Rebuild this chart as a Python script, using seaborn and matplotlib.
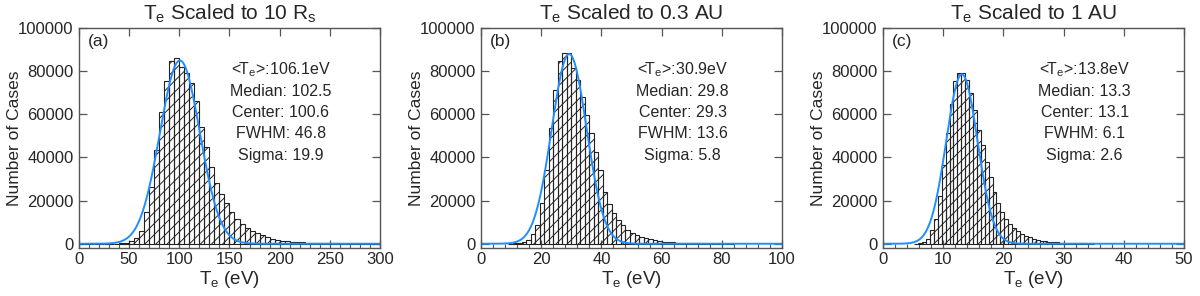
import numpy as np
import pandas as pd
import seaborn as sns
import matplotlib
matplotlib.use('Agg')
from matplotlib import pyplot as plt
from matplotlib.ticker import MultipleLocator

# histogram counts, one list per panel
# panel a: 5 eV bins starting at 0
counts_a = [0, 0, 0, 0, 0, 0, 0, 20, 150, 450,
            1200, 2500, 5800, 14800, 26400, 43400, 61300, 75500, 84800, 86200,
            82000, 79000, 74700, 66200, 54200, 44900, 35600, 28400, 23200, 18900,
            14700, 11600, 9300, 7500, 6000, 4800, 3900, 3100, 2400, 1900,
            1500, 1200, 950, 750, 600, 480, 380, 300, 240, 190,
            150, 120, 95, 75, 60, 45, 35, 28, 22, 17]
start_a, width_a = 0.0, 5.0

# panel b: 1.5 eV bins starting at 9
counts_b = [60, 200, 500, 1000, 1860, 4300, 8800, 19000, 34000, 53500,
            71300, 84800, 88600, 88350, 81400, 75900, 68200, 59700, 51150, 42600,
            34100, 24000, 18600, 14250, 10850, 8500, 6500, 5100, 4000, 3200,
            2500, 2000, 1600, 1250, 1000, 800, 640, 500, 400, 320,
            250, 200, 160, 125, 100, 80, 60, 45, 35, 25]
start_b, width_b = 9.0, 1.5

# panel c: 0.65 eV bins starting at 5.2
counts_c = [80, 250, 750, 2000, 6200, 11600, 22100, 36400, 51400, 64800,
            75500, 79300, 79300, 75900, 69750, 62000, 52700, 45700, 37900, 31000,
            24000, 18900, 14700, 11600, 9300, 7250, 5700, 4650, 3700, 2950,
            2350, 1900, 1500, 1200, 950, 750, 600, 480, 380, 300,
            240, 190, 150, 120, 95, 75]
start_c, width_c = 5.2, 0.65

titles = [r'T$_e$ Scaled to 10 R$_s$', r'T$_e$ Scaled to 0.3 AU', r'T$_e$ Scaled to 1 AU']
tags = ['(a)', '(b)', '(c)']
mean_te = [106.1, 30.9, 13.8]
median_te = [102.5, 29.8, 13.3]
center_te = [100.6, 29.3, 13.1]
fwhm_te = [46.8, 13.6, 6.1]
sigma_te = [19.9, 5.8, 2.6]
fit_amp = [85000, 88000, 78600]
x_max = [300, 100, 50]
x_major = [50, 20, 10]

sns.set_style('ticks')
plt.rcParams['font.family'] = ['Liberation Sans', 'DejaVu Sans']
plt.rcParams['mathtext.default'] = 'regular'
plt.rcParams['hatch.linewidth'] = 0.7
plt.rcParams['hatch.color'] = '#808080'

fig, axes = plt.subplots(1, 3, figsize=(12, 2.96), dpi=100)
fig.subplots_adjust(left=0.0658, right=0.9867, bottom=0.162, top=0.905, wspace=0.3355)

panels = [(counts_a, start_a, width_a), (counts_b, start_b, width_b), (counts_c, start_c, width_c)]

for i, ax in enumerate(axes):
    counts, start, width = panels[i]
    n = len(counts)
    df = pd.DataFrame({'te': start + width * (np.arange(n) + 0.5), 'n': counts})
    brange = (start, start + width * n)

    # hatched bars with dark outlines
    sns.histplot(data=df, x='te', weights='n', binwidth=width, binrange=brange, ax=ax,
                 fill=False, color='#222222', linewidth=0.8)
    for p in ax.patches:
        p.set_hatch('///')

    # gaussian fit
    xs = np.linspace(0, x_max[i], 800)
    fit = fit_amp[i] * np.exp(-(xs - center_te[i]) ** 2 / (2 * sigma_te[i] ** 2))
    sns.lineplot(x=xs, y=fit, ax=ax, color='#1f8fff', linewidth=1.4)

    ax.set_xlim(0, x_max[i])
    ax.set_ylim(-2000, 100000)
    ax.xaxis.set_major_locator(MultipleLocator(x_major[i]))
    ax.xaxis.set_minor_locator(MultipleLocator(x_major[i] / 5))
    ax.yaxis.set_major_locator(MultipleLocator(20000))

    for s in ax.spines.values():
        s.set_visible(True)
        s.set_color('#555555')
        s.set_linewidth(1.0)
    ax.tick_params(which='major', direction='in', top=True, right=True, length=6,
                   width=0.9, color='#555555', labelsize=12, pad=4)
    ax.tick_params(axis='x', which='major', pad=3)
    ax.tick_params(axis='x', which='minor', direction='in', top=False, length=3,
                   width=0.8, color='#555555')

    ax.set_title(titles[i], fontsize=15, pad=6)
    ax.set_xlabel(r'T$_e$ (eV)', fontsize=13.5, labelpad=1)
    ax.set_ylabel('Number of Cases', fontsize=12.5)
    ax.yaxis.set_label_coords(-0.19, 0.5)

    ax.text(0.03, 0.975, tags[i], transform=ax.transAxes, ha='left', va='top', fontsize=12.5)

    lines = [r'<T$_e$>:%.1feV' % mean_te[i],
             'Median: %.1f' % median_te[i],
             'Center: %.1f' % center_te[i],
             'FWHM: %.1f' % fwhm_te[i],
             'Sigma: %.1f' % sigma_te[i]]
    for k, txt in enumerate(lines):
        ax.text(0.67, 0.809 - 0.0965 * k, txt, transform=ax.transAxes,
                ha='center', va='center', fontsize=11.5)

fig.savefig('out.png', dpi=100)
